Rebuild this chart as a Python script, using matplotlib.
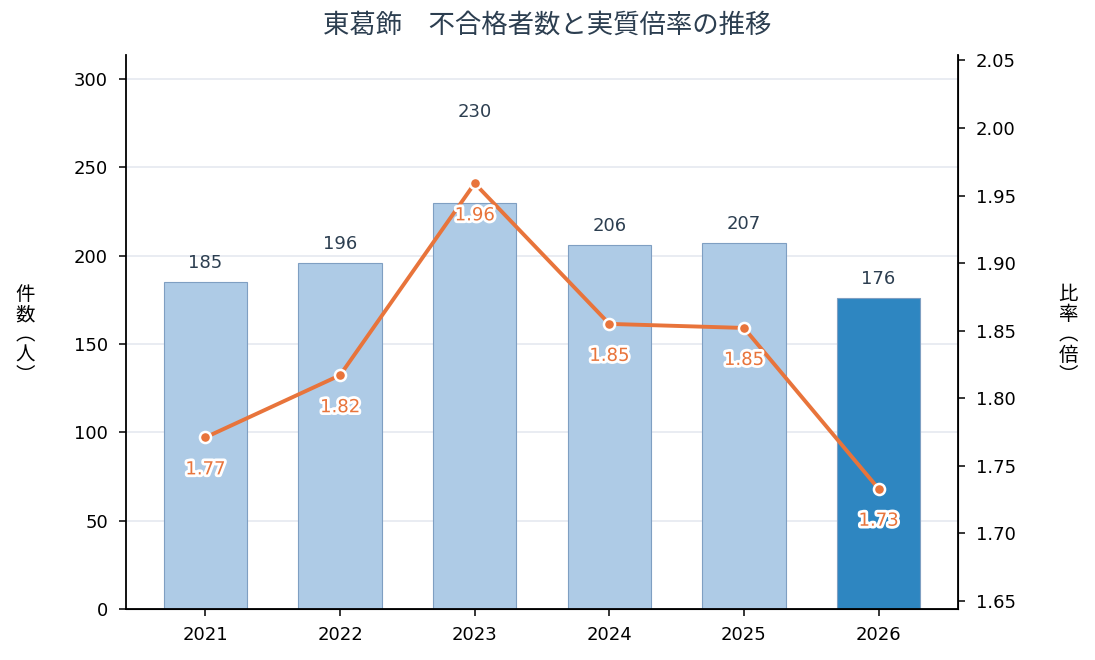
import matplotlib
matplotlib.use("Agg")
import matplotlib.pyplot as plt
import matplotlib.patheffects as pe
import numpy as np

plt.rcParams['font.family'] = ['DejaVu Sans', 'Noto Sans CJK JP']
cjk = ['Noto Sans CJK JP', 'DejaVu Sans']

years = ['2021', '2022', '2023', '2024', '2025', '2026']
fails = [185, 196, 230, 206, 207, 176]
ratio = [1.771, 1.817, 1.959, 1.855, 1.852, 1.733]
ratio_labels = ['1.77', '1.82', '1.96', '1.85', '1.85', '1.73']

title = '東葛飾\u3000不合格者数と実質倍率の推移'
dark = '#2c3e50'
orange = '#e8743b'

fig = plt.figure(figsize=(10.95, 6.6), dpi=100)
ax = fig.add_axes([126 / 1095, 51 / 660, 832 / 1095, 554 / 660])
ax2 = ax.twinx()

x = np.arange(len(years))
colors = ['#aecbe6'] * (len(years) - 1) + ['#2e86c1']
ax.bar(x, fails, width=0.62, color=colors, edgecolor='#7f9fc2', linewidth=0.8, zorder=2)

# bar value labels (2023 pushed up to clear the line)
for i, v in enumerate(fails):
    off = 91 if i == 2 else 19
    ax.annotate(str(v), (x[i], v), xytext=(0, off), textcoords='offset pixels',
                ha='center', va='center', fontsize=13, color=dark)

ax.set_xlim(-0.59, 5.59)
ax.set_ylim(0, 313.5)
ax.set_yticks(np.arange(0, 301, 50))
ax.set_xticks(x)
ax.set_xticklabels(years)
ax.grid(axis='y', color='#e5e9f0', linewidth=1.2, zorder=0)
ax.set_axisbelow(True)
ax.tick_params(labelsize=13, colors='black', length=5, width=1.1)
ax.tick_params(axis='y', pad=8)
ax.tick_params(axis='x', pad=7)
for s in ['top']:
    ax.spines[s].set_visible(False)
    ax2.spines[s].set_visible(False)
ax.spines['left'].set_linewidth(1.3)
ax.spines['bottom'].set_linewidth(1.3)
ax2.spines['right'].set_linewidth(1.3)
ax2.spines['left'].set_visible(False)

ax2.plot(x, ratio, color=orange, linewidth=2.8, marker='o', markersize=8,
         markerfacecolor=orange, markeredgecolor='white', markeredgewidth=1.8, zorder=3)
ax2.set_ylim(1.644, 2.054)
ax2.set_yticks(np.arange(1.65, 2.051, 0.05))
ax2.set_yticklabels([f'{t:.2f}' for t in np.arange(1.65, 2.051, 0.05)])
ax2.tick_params(labelsize=13, colors='black', length=5, width=1.1, pad=8)

for i, v in enumerate(ratio):
    ax2.annotate(ratio_labels[i], (x[i], v), xytext=(0, -32), textcoords='offset pixels',
                 ha='center', va='center', fontsize=13, color=orange,
                 path_effects=[pe.withStroke(linewidth=4, foreground='white')], zorder=4)

fig.text(0.5, 1 - 25 / 660, title, ha='center', va='center', fontsize=19,
         color=dark, family=cjk)
fig.text(25 / 1095, 325 / 660, '件\n数\n︵\n人\n︶', ha='center', va='center',
         fontsize=14, color='black', linespacing=0.95, family=cjk)
fig.text(1068 / 1095, 325 / 660, '比\n率\n︵\n倍\n︶', ha='center', va='center',
         fontsize=14, color='black', linespacing=0.95, family=cjk)

fig.savefig('out.png', dpi=100)
